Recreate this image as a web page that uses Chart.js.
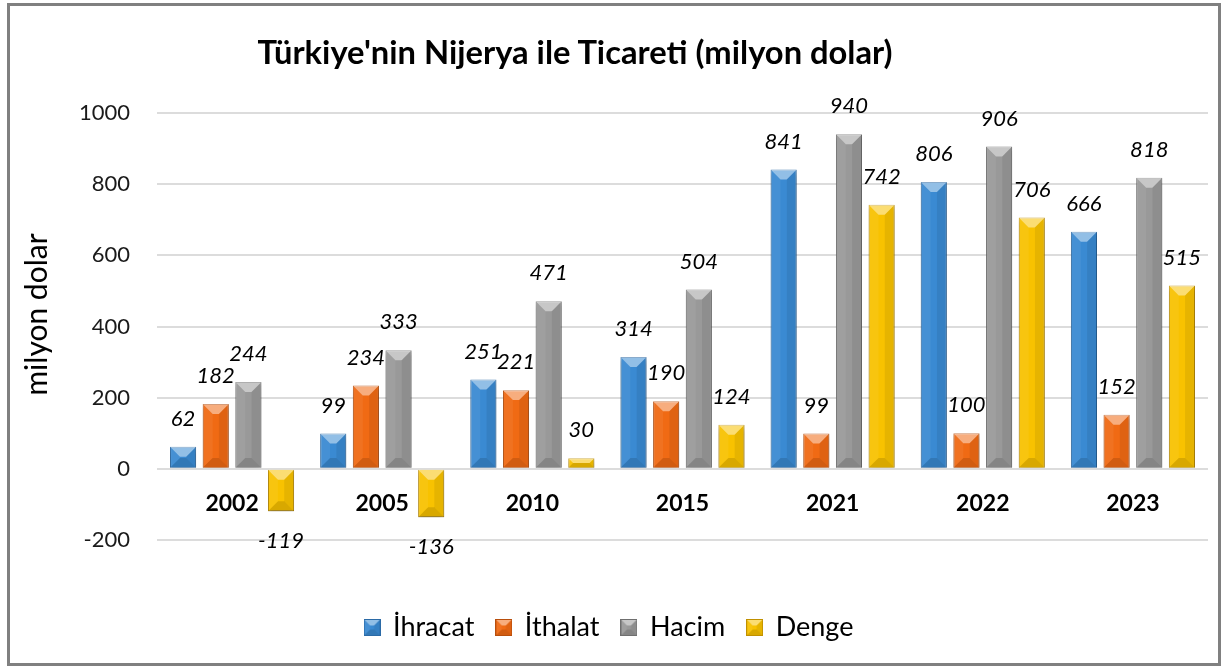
<!DOCTYPE html>
<html>
<head>
<meta charset="utf-8">
<script src="https://cdn.jsdelivr.net/npm/chart.js@4.4.0/dist/chart.umd.min.js"></script>
<style>
  body { margin: 0; background: #fff; }
  #frame {
    position: absolute; left: 7px; top: 3px;
    width: 1214px; height: 663px;
    border: 3px solid #808080; box-sizing: border-box;
    background: #fff;
  }
  #wrap { position: relative; width: 1208px; height: 657px; }
  #title {
    position: absolute; left: 0; top: 26px; width: 1130px;
    height: 36px; line-height: 36px; text-align: center;
    font: bold 32.7px Lato, sans-serif; color: #000;
  }
</style>
</head>
<body>
<div id="frame">
  <div id="wrap">
    <div id="title">Türkiye'nin Nijerya ile Ticareti (milyon dolar)</div>
    <canvas id="chart"></canvas>
  </div>
</div>
<script>
const years = ['2002', '2005', '2010', '2015', '2021', '2022', '2023'];
const ihracat = [62, 99, 251, 314, 841, 806, 666];
const ithalat = [182, 234, 221, 190, 99, 100, 152];
const hacim = [244, 333, 471, 504, 940, 906, 818];
const denge = [-119, -136, 30, 124, 742, 706, 515];

const seriesNames = ['İhracat', 'İthalat', 'Hacim', 'Denge'];
const yMin = -200, yMax = 1000, yStep = 200;
const yTitle = 'milyon dolar';

const fills = ['#3a8ad2', '#f06a14', '#999999', '#f8c200'];
const edges = ['#2b6aa6', '#b84e0c', '#6f6f6f', '#c09000'];

// light top bevel, dark bottom bevel
function bevel(ctx, l, t, r, b) {
  const w = r - l, h = b - t;
  const d = Math.min(w * 0.38, h / 2);
  ctx.fillStyle = 'rgba(255,255,255,0.45)';
  ctx.beginPath();
  ctx.moveTo(l, t); ctx.lineTo(r, t); ctx.lineTo(r - d, t + d); ctx.lineTo(l + d, t + d);
  ctx.closePath(); ctx.fill();
  ctx.fillStyle = 'rgba(0,0,0,0.13)';
  ctx.beginPath();
  ctx.moveTo(l, b); ctx.lineTo(r, b); ctx.lineTo(r - d, b - d); ctx.lineTo(l + d, b - d);
  ctx.closePath(); ctx.fill();
  ctx.fillStyle = 'rgba(0,0,0,0.07)';
  ctx.beginPath();
  ctx.moveTo(r, t); ctx.lineTo(r, b); ctx.lineTo(r - d, b - d); ctx.lineTo(r - d, t + d);
  ctx.closePath(); ctx.fill();
  ctx.fillStyle = 'rgba(255,255,255,0.06)';
  ctx.beginPath();
  ctx.moveTo(l, t); ctx.lineTo(l, b); ctx.lineTo(l + d, b - d); ctx.lineTo(l + d, t + d);
  ctx.closePath(); ctx.fill();
}

function swatch(i) {
  const c = document.createElement('canvas');
  c.width = 17; c.height = 17;
  const g = c.getContext('2d');
  g.fillStyle = fills[i];
  g.fillRect(0, 0, 17, 17);
  bevel(g, 0, 0, 17, 17);
  g.strokeStyle = edges[i];
  g.lineWidth = 1;
  g.strokeRect(0.5, 0.5, 16, 16);
  return c;
}

const barShadow = {
  id: 'barShadow',
  beforeDatasetsDraw(chart) {
    const ctx = chart.ctx;
    ctx.save();
    ctx.shadowColor = 'rgba(0,0,0,0.28)';
    ctx.shadowBlur = 5;
    ctx.shadowOffsetY = 3;
  },
  afterDatasetsDraw(chart) {
    const ctx = chart.ctx;
    ctx.restore();
    ctx.save();
    chart.data.datasets.forEach((ds, i) => {
      chart.getDatasetMeta(i).data.forEach(bar => {
        const half = bar.width / 2;
        bevel(ctx, bar.x - half, Math.min(bar.y, bar.base), bar.x + half, Math.max(bar.y, bar.base));
      });
    });
    ctx.restore();
  }
};

const valueLabels = {
  id: 'valueLabels',
  afterDatasetsDraw(chart) {
    const ctx = chart.ctx;
    ctx.save();
    ctx.font = 'italic 22px Lato';
    ctx.fillStyle = '#000';
    ctx.textAlign = 'center';
    ctx.textBaseline = 'middle';
    chart.data.datasets.forEach((ds, i) => {
      chart.getDatasetMeta(i).data.forEach((bar, j) => {
        const v = ds.data[j];
        ctx.fillText(String(v), bar.x, v < 0 ? bar.y + 30 : bar.y - 28);
      });
    });
    ctx.restore();
  }
};

// year labels sit just under the zero line, y title a bit above centre
const axisText = {
  id: 'axisText',
  afterDatasetsDraw(chart) {
    const ctx = chart.ctx;
    const xs = chart.scales.x, ys = chart.scales.y;
    ctx.save();
    ctx.font = 'bold 23px Lato';
    ctx.fillStyle = '#000';
    ctx.textAlign = 'center';
    ctx.textBaseline = 'middle';
    years.forEach((y, j) => {
      ctx.fillText(y, xs.getPixelForValue(j), ys.getPixelForValue(0) + 35);
    });
    ctx.font = '30px Lato';
    ctx.translate(ys.left + 27, (ys.top + ys.bottom) / 2 - 12);
    ctx.rotate(-Math.PI / 2);
    ctx.fillText(yTitle, 0, 0);
    ctx.restore();
  }
};

const seriesData = [ihracat, ithalat, hacim, denge];

new Chart(document.getElementById('chart'), {
  type: 'bar',
  data: {
    labels: years,
    datasets: seriesNames.map((name, i) => ({
      label: name,
      data: seriesData[i],
      backgroundColor: fills[i],
      borderColor: edges[i],
      borderWidth: 1,
      pointStyle: swatch(i),
      categoryPercentage: 0.87,
      barPercentage: 0.8
    }))
  },
  options: {
    responsive: true,
    maintainAspectRatio: false,
    animation: false,
    layout: { padding: { top: 107, right: 10, left: 0, bottom: 12 } },
    scales: {
      x: {
        ticks: { display: false },
        grid: { display: false },
        border: { display: false },
        afterFit(scale) { scale.height = 52; }
      },
      y: {
        min: yMin,
        max: yMax,
        ticks: {
          stepSize: yStep, color: '#1a1a1a', padding: 27,
          font: { family: 'Lato', size: 22 },
          callback: v => String(v)
        },
        grid: { color: '#dcdcdc', lineWidth: 2, drawTicks: false },
        border: { display: false },
        afterFit(scale) { scale.width = 147; }
      }
    },
    plugins: {
      legend: {
        position: 'bottom',
        labels: {
          usePointStyle: true,
          pointStyleWidth: 15,
          padding: 22,
          color: '#000',
          font: { family: 'Lato', size: 27 }
        }
      },
      tooltip: { enabled: false }
    }
  },
  plugins: [barShadow, valueLabels, axisText]
});
</script>
</body>
</html>
